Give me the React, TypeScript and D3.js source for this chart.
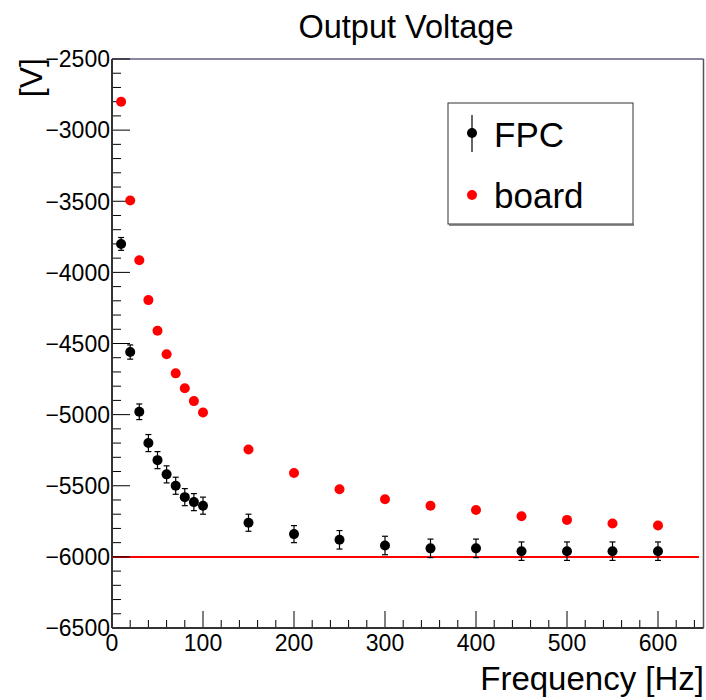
import React from "react";
import * as d3 from "d3";

const freqs = [10, 20, 30, 40, 50, 60, 70, 80, 90, 100, 150, 200, 250, 300, 350, 400, 450, 500, 550, 600];
const fpcVoltage = [-3800, -4560, -4980, -5200, -5320, -5420, -5500, -5580, -5615, -5640, -5760, -5840, -5880, -5920, -5940, -5940, -5960, -5960, -5960, -5960];
const fpcError = [45, 50, 55, 60, 60, 60, 60, 60, 60, 60, 60, 60, 65, 65, 65, 65, 65, 65, 65, 65];
const boardVoltage = [-2800, -3495, -3915, -4195, -4410, -4575, -4710, -4815, -4905, -4985, -5245, -5410, -5525, -5595, -5640, -5670, -5715, -5740, -5765, -5780];
const xTicks = [0, 100, 200, 300, 400, 500, 600];
const yTicks = [-2500, -3000, -3500, -4000, -4500, -5000, -5500, -6000, -6500];
const referenceLevel = -6000;
const legendLabels = ["FPC", "board"];

const W = 706, H = 700;
const L = 112, R = 703.5, T = 59, B = 628;
const FONT = "'Liberation Sans', Arial, Helvetica, sans-serif";

export default function App() {
  const x = d3.scaleLinear().domain([0, 650]).range([L, R]);
  const y = d3.scaleLinear().domain([-6500, -2500]).range([B, T]);
  const xMinor = d3.range(0, 651, 20);
  const yMinor = d3.range(-6500, -2499, 100);
  const fmt = (v: number) => (v < 0 ? "\u2212" + Math.abs(v) : String(v));

  return (
    <svg width={W} height={H} style={{ position: "absolute", left: 0, top: 0, background: "#fff" }} fontFamily={FONT}>
      <rect x={0} y={0} width={W} height={H} fill="#fff" />
      {/* frame */}
      <line x1={L} x2={R} y1={T} y2={T} stroke="#101040" strokeWidth={1} />
      <line x1={R} x2={R} y1={T} y2={B} stroke="#555" strokeWidth={1.5} />
      {/* reference line */}
      <line x1={L} x2={x(645)} y1={y(referenceLevel)} y2={y(referenceLevel)} stroke="#ff0000" strokeWidth={2} />
      {/* axis ticks */}
      {yMinor.map((v) => {
        const major = v % 500 === 0;
        return <line key={"ym" + v} x1={L} x2={L + (major ? 18 : 9)} y1={y(v)} y2={y(v)} stroke="#000" strokeWidth={1} />;
      })}
      {xMinor.map((v) => {
        const major = v % 100 === 0;
        return <line key={"xm" + v} x1={x(v)} x2={x(v)} y1={B} y2={B - (major ? 17 : 8)} stroke="#000" strokeWidth={1} />;
      })}
      <line x1={L} x2={L} y1={T} y2={B} stroke="#333" strokeWidth={2} />
      <line x1={L} x2={R} y1={B} y2={B} stroke="#333" strokeWidth={2} />
      {yTicks.map((v) => (
        <text key={"yt" + v} x={110} y={y(v)} dy="0.36em" textAnchor="end" fontSize={23} fill="#000">{fmt(v)}</text>
      ))}
      {xTicks.map((v) => (
        <text key={"xt" + v} x={x(v)} y={651} textAnchor="middle" fontSize={23} fill="#000">{fmt(v)}</text>
      ))}
      {/* titles */}
      <text x={406} y={38} textAnchor="middle" fontSize={32.5} fill="#000">Output Voltage</text>
      <text x={704} y={690} textAnchor="end" fontSize={33} fill="#000">Frequency [Hz]</text>
      <text transform="translate(42,58) rotate(-90)" textAnchor="end" fontSize={32} fill="#000">[V]</text>
      {/* board points */}
      {freqs.map((f, i) => (
        <circle key={"b" + f} cx={x(f)} cy={y(boardVoltage[i])} r={5} fill="#ff0000" />
      ))}
      {/* FPC points with error bars */}
      {freqs.map((f, i) => {
        const cx = x(f);
        const y1 = y(fpcVoltage[i] + fpcError[i]);
        const y2 = y(fpcVoltage[i] - fpcError[i]);
        return (
          <g key={"f" + f}>
            <line x1={cx} x2={cx} y1={y1} y2={y2} stroke="#000" strokeWidth={1.2} />
            <line x1={cx - 3} x2={cx + 3} y1={y1} y2={y1} stroke="#000" strokeWidth={1.2} />
            <line x1={cx - 3} x2={cx + 3} y1={y2} y2={y2} stroke="#000" strokeWidth={1.2} />
            <circle cx={cx} cy={y(fpcVoltage[i])} r={5} fill="#000" />
          </g>
        );
      })}
      {/* legend */}
      <rect x={448} y={103} width={185} height={121} fill="#fff" stroke="#333" strokeWidth={1} />
      <line x1={449} x2={634} y1={225} y2={225} stroke="#666" strokeWidth={1.5} />
      <line x1={472} x2={472} y1={115} y2={152} stroke="#000" strokeWidth={1.2} />
      <circle cx={472} cy={133} r={5} fill="#000" />
      <text x={494} y={147} fontSize={35} fill="#000">{legendLabels[0]}</text>
      <circle cx={472} cy={195} r={5} fill="#ff0000" />
      <text x={494} y={208} fontSize={35} fill="#000">{legendLabels[1]}</text>
    </svg>
  );
}
